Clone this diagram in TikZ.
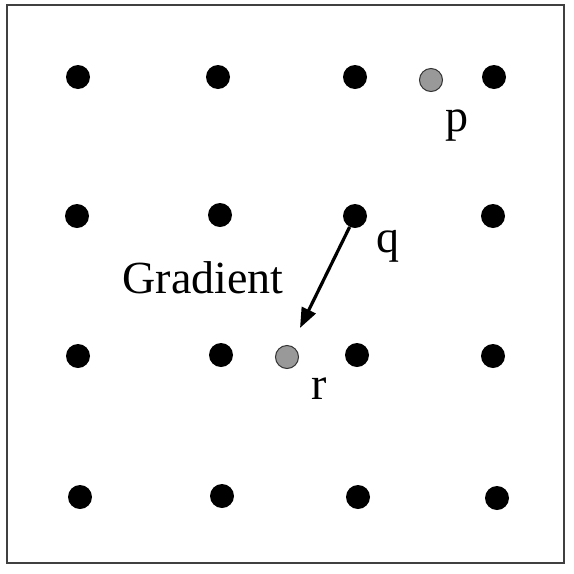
\documentclass[tikz,border=0pt]{standalone}
\usepackage{fontspec}
\setmainfont{Liberation Serif}
\usetikzlibrary{arrows.meta}
\begin{document}
\begin{tikzpicture}[x=1pt,y=-1pt,
  dot/.style={circle,fill=black,inner sep=0pt,minimum size=24pt},
  gdot/.style={circle,fill=gray!80,draw=black!80,line width=1pt,inner sep=0pt,minimum size=23pt},
  lbl/.style={font=\fontsize{46}{46}\selectfont,inner sep=0pt,anchor=base}]
\fill[white] (0,0) rectangle (574,574);
\useasboundingbox (0,0) rectangle (574,574);
\draw[black!75,line width=1.5pt] (7,5) rectangle (564,563);
% row 1
\node[dot] (a1) at (78,77) {};
\node[dot] (a2) at (218,77) {};
\node[dot] (a3) at (355,77) {};
\node[dot] (a4) at (494,77) {};
% row 2
\node[dot] (b1) at (77,216) {};
\node[dot] (b2) at (220,215) {};
\node[dot] (q) at (355,216) {};
\node[dot] (b4) at (493,216) {};
% row 3
\node[dot] (c1) at (78,356) {};
\node[dot] (c2) at (221,355) {};
\node[dot] (c3) at (357,355) {};
\node[dot] (c4) at (493,356) {};
% row 4
\node[dot] (d1) at (80,497) {};
\node[dot] (d2) at (222,496) {};
\node[dot] (d3) at (358,497) {};
\node[dot] (d4) at (497,498) {};
% gray points
\node[gdot] (p) at (431,80) {};
\node[gdot] (r) at (287,357) {};
% labels
\node[lbl] (plbl) at (457,131) {p};
\node[lbl] (qlbl) at (388,252) {q};
\node[lbl] (rlbl) at (319,399) {r};
\node[lbl] (glbl) at (203,293) {Gradient};
% gradient arrow
\coordinate (gtip) at (300,328);
\draw[line width=3.2pt,-{Triangle[length=20pt,width=15pt]}] (q) -- (gtip);
\end{tikzpicture}
\end{document}
